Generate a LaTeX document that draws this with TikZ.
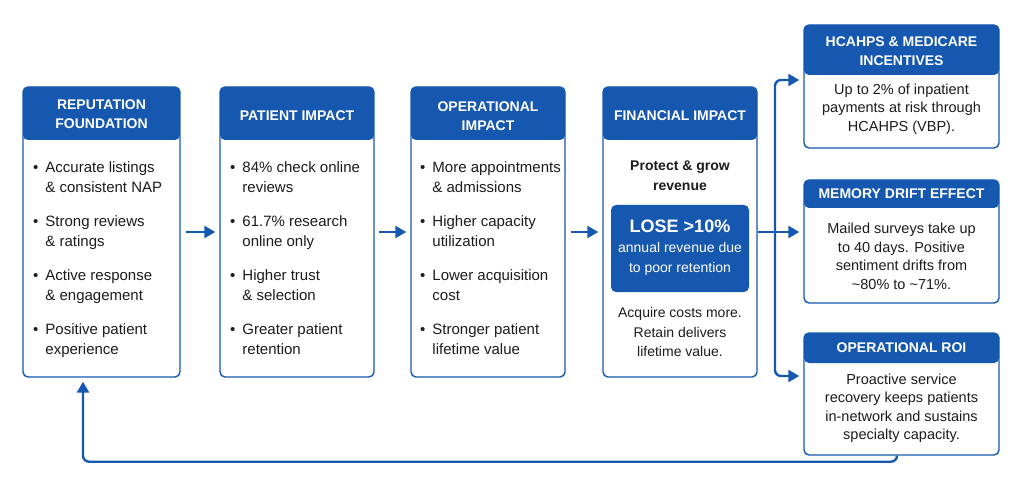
\documentclass[tikz,border=0pt]{standalone}
\usepackage{fontspec}
\setmainfont{Liberation Sans}
\usetikzlibrary{arrows.meta}
\definecolor{bl}{RGB}{22,88,176}
\definecolor{tx}{RGB}{28,28,28}
\begin{document}
\begin{tikzpicture}[x=1pt,y=-1pt,
 card/.style={draw=bl,line width=1.4pt,rounded corners=5pt,fill=white,inner sep=0pt},
 hdr/.style={path picture={\fill[bl] (path picture bounding box.north west) rectangle ([yshift=-#1]path picture bounding box.north east);}},
 htext/.style={text=white,font=\fontsize{14}{19}\selectfont\bfseries,align=center,inner sep=0pt},
 body/.style={text=tx,font=\fontsize{15}{20}\selectfont,anchor=north west,inner sep=0pt},
 rbody/.style={text=tx,font=\fontsize{14.5}{18.5}\selectfont,align=center,inner sep=0pt},
 ln/.style={draw=bl,line width=2.4pt},
 arr/.style={ln,-{Triangle[length=11pt,width=12pt]}}
]
\useasboundingbox[fill=white] (0,0) rectangle (1024,486);

% main cards
\node[card,hdr=53pt,minimum width=157pt,minimum height=290pt] (n1) at (101.5,232) {};
\node[card,hdr=53pt,minimum width=154pt,minimum height=290pt] (n2) at (297,232) {};
\node[card,hdr=53pt,minimum width=154pt,minimum height=290pt] (n3) at (488,232) {};
\node[card,hdr=53pt,minimum width=154pt,minimum height=290pt] (n4) at (680,232) {};
% right cards
\node[card,hdr=50pt,minimum width=195pt,minimum height=123pt] (nA) at (901.5,86.5) {};
\node[card,hdr=28pt,minimum width=195pt,minimum height=123pt] (nB) at (901.5,241.5) {};
\node[card,hdr=30pt,minimum width=195pt,minimum height=122pt] (nC) at (901.5,394) {};

% headers
\node[htext] (h1) at (101.5,114) {REPUTATION\\FOUNDATION};
\node[htext] (h2) at (297,116) {PATIENT IMPACT};
\node[htext] (h3) at (488,116) {OPERATIONAL\\IMPACT};
\node[htext] (h4) at (680,116) {FINANCIAL IMPACT};
\node[htext] (hA) at (901.5,51) {HCAHPS \& MEDICARE\\INCENTIVES};
\node[htext] (hB) at (901.5,194) {MEMORY DRIFT EFFECT};
\node[htext] (hC) at (901.5,348) {OPERATIONAL ROI};

% bodies
\node[body] (b1) at (33,158) {\begin{tabular}{@{}l@{\hspace{7pt}}l@{}}
\textbullet & Accurate listings\\ & \& consistent NAP\\[14pt]
\textbullet & Strong reviews\\ & \& ratings\\[14pt]
\textbullet & Active response\\ & \& engagement\\[14pt]
\textbullet & Positive patient\\ & experience
\end{tabular}};
\node[body] (b2) at (230,158) {\begin{tabular}{@{}l@{\hspace{7pt}}l@{}}
\textbullet & 84\% check online\\ & reviews\\[14pt]
\textbullet & 61.7\% research\\ & online only\\[14pt]
\textbullet & Higher trust\\ & \& selection\\[14pt]
\textbullet & Greater patient\\ & retention
\end{tabular}};
\node[body] (b3) at (420,158) {\begin{tabular}{@{}l@{\hspace{7pt}}l@{}}
\textbullet & More appointments\\ & \& admissions\\[14pt]
\textbullet & Higher capacity\\ & utilization\\[14pt]
\textbullet & Lower acquisition\\ & cost\\[14pt]
\textbullet & Stronger patient\\ & lifetime value
\end{tabular}};

% financial
\node[rbody,font=\fontsize{14}{20}\selectfont\bfseries] (p4) at (680,176) {Protect \& grow\\revenue};
\node[fill=bl,rounded corners=5pt,minimum width=138pt,minimum height=87pt,inner sep=0pt] (lose) at (680,248.5) {};
\node[text=white,font=\fontsize{18}{22}\selectfont\bfseries,inner sep=0pt] (lt) at (680,226) {LOSE >10\%};
\node[rbody,text=white,font=\fontsize{14}{20}\selectfont] (ls) at (680,259) {annual revenue due\\to poor retention};
\node[rbody,font=\fontsize{14}{19.5}\selectfont] (a4) at (680,332) {Acquire costs more.\\Retain delivers\\lifetime value.};

% right bodies
\node[rbody] (tA) at (901.5,109) {Up to 2\% of inpatient\\payments at risk through\\HCAHPS (VBP).};
\node[rbody] (tB) at (901.5,256.5) {Mailed surveys take up\\to 40 days. Positive\\sentiment drifts from\\\textasciitilde80\% to \textasciitilde71\%.};
\node[rbody] (tC) at (901.5,408) {Proactive service\\recovery keeps patients\\in-network and sustains\\specialty capacity.};

% arrows
\draw[arr,shorten <=5pt,shorten >=4pt] (n1.east) -- (n2.west);
\draw[arr,shorten <=4pt,shorten >=4pt] (n2.east) -- (n3.west);
\draw[arr,shorten <=5pt,shorten >=4pt] (n3.east) -- (n4.west);
\coordinate (hub) at (775,232);
\draw[ln] (n4.east) -- (hub);
\draw[arr,rounded corners=6pt,shorten >=4pt] (hub) |- ([yshift=6.5pt]nA.west);
\draw[arr,shorten >=4pt] (hub) -- (nB.west|-hub);
\draw[arr,rounded corners=6pt,shorten >=4pt] (hub) |- ([yshift=18pt]nC.west);
\draw[arr,rounded corners=6pt,shorten >=4pt] ([xshift=-4.5pt]nC.south) -- ++(0,6) -| ([xshift=-18.5pt]n1.south);
\end{tikzpicture}
\end{document}
